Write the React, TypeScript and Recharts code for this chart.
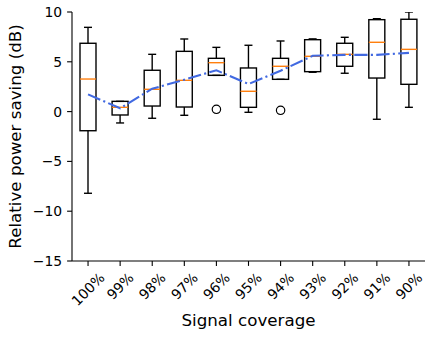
import React from "react";
import { ComposedChart, Bar, Line, XAxis, YAxis } from "recharts";

const categories = ["100%", "99%", "98%", "97%", "96%", "95%", "94%", "93%", "92%", "91%", "90%"];
const whiskerLow = [-8.2, -1.14, -0.67, -0.37, 3.64, -0.07, 3.24, 3.95, 3.85, -0.77, 0.43];
const q1 = [-1.92, -0.34, 0.56, 0.46, 3.64, 0.43, 3.24, 4.01, 4.55, 3.37, 2.74];
const medians = [3.27, 0.43, 2.24, 3.14, 4.91, 2.04, 4.55, 5.55, 5.75, 6.96, 6.25];
const q3 = [6.86, 1.03, 4.15, 6.05, 5.35, 4.38, 5.35, 7.22, 6.86, 9.23, 9.27];
const whiskerHigh = [8.46, 1.03, 5.75, 7.29, 6.45, 6.66, 7.09, 7.3, 7.46, 9.33, 10];
const means = [1.73, 0.33, 2.3, 3.2, 4.15, 2.77, 4.1, 5.6, 5.7, 5.7, 5.9];
const outliers: (number | null)[] = [null, null, null, null, 0.23, null, 0.13, null, null, null, null];
const yTicks = [-15, -10, -5, 0, 5, 10];

const data = categories.map((c, i) => ({
  cat: c,
  range: [whiskerLow[i], whiskerHigh[i]],
  lo: whiskerLow[i],
  q1: q1[i],
  med: medians[i],
  q3: q3[i],
  hi: whiskerHigh[i],
  mean: means[i],
  outlier: outliers[i],
}));

const FONT = "DejaVu Sans";
const TICK_FS = 13.9;
const LABEL_FS = 16.7;

const BoxShape = (props: any) => {
  const { x, y, width, height, payload } = props;
  const top = Math.min(y, y + height);
  const bot = Math.max(y, y + height);
  const lo = payload.lo;
  const hi = payload.hi;
  const pix = (v: number) => (hi === lo ? top : top + ((hi - v) / (hi - lo)) * (bot - top));
  const cx = x + width / 2;
  const hw = width / 4;
  const cw = width / 8;
  const sw = 1.39;
  const yq1 = pix(payload.q1);
  const yq3 = pix(payload.q3);
  const ymed = pix(payload.med);
  const ylo = pix(lo);
  const yhi = pix(hi);
  return (
    <g>
      <line x1={cx} x2={cx} y1={yhi} y2={yq3} stroke="#000" strokeWidth={sw} />
      <line x1={cx} x2={cx} y1={yq1} y2={ylo} stroke="#000" strokeWidth={sw} />
      <line x1={cx - cw} x2={cx + cw} y1={yhi} y2={yhi} stroke="#000" strokeWidth={sw} />
      <line x1={cx - cw} x2={cx + cw} y1={ylo} y2={ylo} stroke="#000" strokeWidth={sw} />
      <rect x={cx - hw} y={yq3} width={hw * 2} height={Math.max(0, yq1 - yq3)} fill="none" stroke="#000" strokeWidth={sw} />
      <line x1={cx - hw} x2={cx + hw} y1={ymed} y2={ymed} stroke="#ff7f0e" strokeWidth={sw} />
    </g>
  );
};

const XTick = (props: any) => {
  const { x, y, payload } = props;
  const s = String(payload.value);
  let w = 0;
  for (const ch of s) w += ch === "%" ? 0.95 : 0.636;
  w *= TICK_FS;
  const cy = y + (w + 12) / (2 * Math.SQRT2);
  return (
    <text
      x={x}
      y={cy}
      textAnchor="middle"
      dominantBaseline="central"
      fontSize={TICK_FS}
      fontFamily={FONT}
      fill="#000"
      transform={`rotate(-45, ${x}, ${cy})`}
    >
      {s}
    </text>
  );
};

const XLabel = () => (
  <text x={248.5} y={326} textAnchor="middle" fontSize={LABEL_FS} fontFamily={FONT} fill="#000">
    Signal coverage
  </text>
);

const YLabel = () => (
  <text
    x={21}
    y={136.5}
    textAnchor="middle"
    fontSize={LABEL_FS}
    fontFamily={FONT}
    fill="#000"
    transform="rotate(-90, 21, 136.5)"
  >
    Relative power saving (dB)
  </text>
);

const fmtY = (v: number) => (v < 0 ? "\u2212" + Math.abs(v) : String(v));

export default function App() {
  return (
    <div style={{ position: "absolute", left: 0, top: 0, width: 435, height: 337, background: "#fff" }}>
      <ComposedChart
        width={435}
        height={337}
        data={data}
        margin={{ top: 12, right: 10, bottom: 0, left: 0 }}
        barCategoryGap={0}
        barGap={0}
      >
        <XAxis
          dataKey="cat"
          interval={0}
          height={76}
          tickSize={4.9}
          tickMargin={4.9}
          axisLine={{ stroke: "#000", strokeWidth: 1.1 }}
          tickLine={{ stroke: "#000", strokeWidth: 1.1 }}
          tick={<XTick />}
          label={XLabel}
        />
        <XAxis
          xAxisId="top"
          dataKey="cat"
          orientation="top"
          height={0}
          tick={false}
          tickLine={false}
          axisLine={{ stroke: "#000", strokeWidth: 1.1 }}
        />
        <YAxis
          domain={[-15, 10]}
          ticks={yTicks}
          type="number"
          width={72}
          tickSize={4.9}
          tickMargin={4.9}
          tickFormatter={fmtY}
          axisLine={{ stroke: "#000", strokeWidth: 1.1 }}
          tickLine={{ stroke: "#000", strokeWidth: 1.1 }}
          tick={{ fontSize: TICK_FS, fontFamily: FONT, fill: "#000" }}
          allowDataOverflow
          label={YLabel}
        />
        <YAxis
          yAxisId="right"
          orientation="right"
          domain={[-15, 10]}
          type="number"
          width={0}
          tick={false}
          tickLine={false}
          axisLine={{ stroke: "#000", strokeWidth: 1.1 }}
        />
        <Bar dataKey="range" shape={<BoxShape />} isAnimationActive={false} />
        <Line
          dataKey="mean"
          stroke="#4169e1"
          strokeWidth={2.1}
          strokeDasharray="13.3 3.3 2.1 3.3"
          dot={false}
          activeDot={false}
          isAnimationActive={false}
        />
        <Line
          dataKey="outlier"
          stroke="none"
          activeDot={false}
          isAnimationActive={false}
          dot={(p: any) =>
            p.payload && p.payload.outlier != null ? (
              <circle key={`o${p.index}`} cx={p.cx} cy={p.cy} r={4.2} fill="none" stroke="#000" strokeWidth={1.2} />
            ) : (
              <g key={`o${p.index}`} />
            )
          }
        />
      </ComposedChart>
    </div>
  );
}
